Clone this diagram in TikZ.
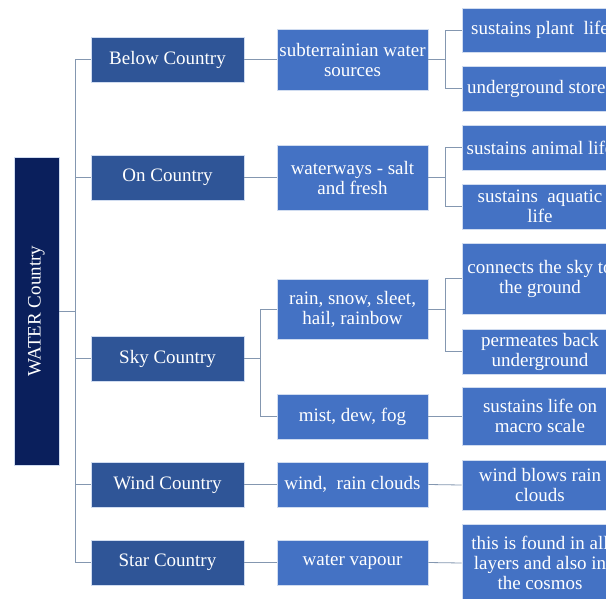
\documentclass[tikz,border=0pt]{standalone}
\usepackage{fontspec}
\setmainfont{Liberation Serif}
\definecolor{rootblue}{HTML}{0A1F5C}
\definecolor{topblue}{HTML}{2F5597}
\definecolor{midblue}{HTML}{4472C4}
\definecolor{linkgrey}{HTML}{8497B0}
\begin{document}
	\begin{tikzpicture}[x=1pt, y=-1pt,
		box/.style={draw=white!75!midblue, line width=0.6pt, text=white, align=center, inner sep=1pt,
			font=\fontsize{19}{20}\selectfont},
		rootbox/.style={box, fill=rootblue, minimum width=45pt, minimum height=308pt},
		topbox/.style={box, fill=topblue, minimum width=153pt, minimum height=45pt},
		midbox/.style={box, fill=midblue, minimum width=151pt, minimum height=45pt},
		leafbox/.style={box, fill=midblue, minimum width=156pt, minimum height=45pt},
		link/.style={draw=linkgrey, line width=0.8pt}]
		\useasboundingbox (0, 0) rectangle (606, 598);
		\clip (0, 0) rectangle (606, 598);
		\fill[white] (0, 0) rectangle (606, 598);
		% root
		\node[rootbox] (root) at (36.5, 311) {};
		\node[text=white, rotate=90, font=\fontsize{19}{20}\selectfont] (roottext) at (root.center) {WATER Country};
		% first level
		\node[topbox] (below) at (167.5, 59.5) {Below Country};
		\node[topbox] (on) at (167.5, 177.5) {On Country};
		\node[topbox] (sky) at (167.5, 358.5) {Sky Country};
		\node[topbox] (wind) at (167.5, 484.5) {Wind Country};
		\node[topbox] (star) at (167.5, 562.5) {Star Country};
		% second level
		\node[midbox, minimum height=61pt] (subter) at (352.5, 59.5) {subterrainian water\\sources};
		\node[midbox, minimum height=65pt] (waterways) at (352.5, 177.5) {waterways - salt\\and fresh};
		\node[midbox, minimum height=60pt] (rain) at (352.5, 309) {rain, snow, sleet,\\hail, rainbow};
		\node[midbox] (mist) at (352.5, 416.5) {mist, dew, fog};
		\node[midbox] (clouds) at (352.5, 484.5) {wind,\ \ rain clouds};
		\node[midbox] (vapour) at (352.5, 562.5) {water vapour};
		% third level
		\node[leafbox, minimum height=44pt] (plant) at (540, 30) {sustains plant\ \ life};
		\node[leafbox] (stores) at (540, 88.5) {underground stores};
		\node[leafbox] (animal) at (540, 147.5) {sustains animal life};
		\node[leafbox] (aquatic) at (540, 206.5) {sustains\ \ aquatic\\life};
		\node[leafbox, minimum height=71pt] (connects) at (540, 278.5) {connects the sky to\\the ground};
		\node[leafbox] (permeates) at (540, 351.5) {permeates back\\underground};
		\node[leafbox, minimum height=58pt] (macro) at (540, 416) {sustains life on\\macro scale};
		\node[leafbox, minimum height=50pt] (blows) at (540, 485) {wind blows rain\\clouds};
		\node[leafbox, minimum height=78pt] (found) at (540, 563) {this is found in all\\layers and also in\\the cosmos};
		% links
		\foreach \top in {below, on, sky, wind, star}
			\draw[link] (root.east) -- ++(16, 0) |- (\top.west);
		\draw[link] (below.east) -- (subter.west);
		\draw[link] (on.east) -- (waterways.west);
		\draw[link] (sky.east) -- ++(16, 0) |- (rain.west);
		\draw[link] (sky.east) -- ++(16, 0) |- (mist.west);
		\draw[link] (wind.east) -- (clouds.west);
		\draw[link] (star.east) -- (vapour.west);
		\draw[link] (subter.east) -- ++(17, 0) |- (plant.west);
		\draw[link] (subter.east) -- ++(17, 0) |- (stores.west);
		\draw[link] (waterways.east) -- ++(17, 0) |- (animal.west);
		\draw[link] (waterways.east) -- ++(17, 0) |- (aquatic.west);
		\draw[link] (rain.east) -- ++(17, 0) |- (connects.west);
		\draw[link] (rain.east) -- ++(17, 0) |- (permeates.west);
		\draw[link] (mist.east) -- (mist.east -| macro.west);
		\draw[link] (clouds.east) -- (blows.west);
		\draw[link] (vapour.east) -- (found.west);
	\end{tikzpicture}
\end{document}
